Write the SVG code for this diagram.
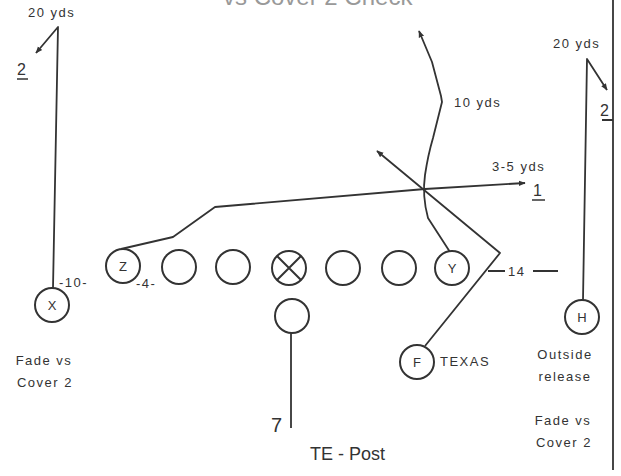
<svg xmlns="http://www.w3.org/2000/svg" width="621" height="476" viewBox="0 0 621 476">
<defs>
<marker id="arr" viewBox="0 0 10 10" refX="9" refY="5" markerWidth="7" markerHeight="7" orient="auto" markerUnits="userSpaceOnUse">
<path d="M0,1 L10,5 L0,9 z" fill="#333"/>
</marker>
<style>
.p{fill:#fff;stroke:#333;stroke-width:2}
.r{fill:none;stroke:#333;stroke-width:1.8;stroke-linejoin:round}
.t{font-family:"Liberation Sans",Arial,sans-serif;fill:#333}
.s{font-size:13px;letter-spacing:1.5px}
.c{font-size:13px;text-anchor:middle}
</style>
</defs>
<rect width="621" height="476" fill="#fff"/>
<text class="t" x="223" y="5" font-size="24" style="fill:#999">vs Cover 2 Check</text>

<g id="connectors">
<path class="r" d="M53,288 L58,27 L36,53" marker-end="url(#arr)"/>
<path class="r" d="M121,249 L173,237 L215,207 L425,189 L525,183" marker-end="url(#arr)"/>
<path class="r" d="M450,252 L428,218 Q422,196 425,175 Q428,155 433,138 L442,102 L441,96 L432,62 L419,31" marker-end="url(#arr)"/>
<path class="r" d="M425,346 L500,253 L377,151" marker-end="url(#arr)"/>
<path class="r" d="M583,300 L587,59 L607,90" marker-end="url(#arr)"/>
<path class="r" d="M291,333 L291,428"/>
<path class="r" d="M613,0 L613,470 M602,120 L613,120"/>
<path class="r" d="M488,271 L505,271 M533,271 L558,271" stroke-width="1.4"/>
</g>

<g id="node-X"><circle class="p" cx="52" cy="305" r="17"/><text class="t c" x="52" y="310">X</text></g>
<g id="node-Z"><circle class="p" cx="123" cy="266" r="17"/><text class="t c" x="123" y="271">Z</text></g>
<g id="node-LT"><circle class="p" cx="179" cy="267" r="17"/></g>
<g id="node-LG"><circle class="p" cx="233" cy="267" r="17"/></g>
<g id="node-C"><circle class="p" cx="289" cy="268" r="17"/><path d="M277,256 L301,280 M301,256 L277,280" stroke="#333" stroke-width="2"/></g>
<g id="node-RG"><circle class="p" cx="343" cy="268" r="17"/></g>
<g id="node-RT"><circle class="p" cx="399" cy="268" r="17"/></g>
<g id="node-Y"><circle class="p" cx="452" cy="268" r="17"/><text class="t c" x="452" y="273">Y</text></g>
<g id="node-QB"><circle class="p" cx="292" cy="316" r="17"/></g>
<g id="node-F"><circle class="p" cx="417" cy="362" r="17"/><text class="t c" x="417" y="367" font-size="12">F</text></g>
<g id="node-H"><circle class="p" cx="582" cy="317" r="17"/><text class="t c" x="582" y="322" font-size="12">H</text></g>

<g id="labels">
<text class="t s" x="28" y="17">20 yds</text>
<text class="t" x="17" y="75" font-size="16">2</text>
<path d="M17,79 L28,79" stroke="#333" stroke-width="1.5"/>
<text class="t s" x="553" y="48">20 yds</text>
<text class="t" x="600" y="116" font-size="16">2</text>
<text class="t s" x="454" y="107">10 yds</text>
<text class="t s" x="492" y="171">3-5 yds</text>
<text class="t" x="533" y="196" font-size="16">1</text>
<path d="M532,200 L545,200" stroke="#333" stroke-width="1.5"/>
<text class="t s" x="59" y="287">-10-</text>
<text class="t s" x="136" y="288">-4-</text>
<text class="t s" x="508" y="276">14</text>
<text class="t s" x="440" y="366" font-size="14">TEXAS</text>
<text class="t s" x="44" y="365" text-anchor="middle">Fade vs</text>
<text class="t s" x="45" y="387" text-anchor="middle">Cover 2</text>
<text class="t s" x="565" y="359" text-anchor="middle">Outside</text>
<text class="t s" x="565" y="381" text-anchor="middle">release</text>
<text class="t s" x="563" y="425" text-anchor="middle">Fade vs</text>
<text class="t s" x="564" y="447" text-anchor="middle">Cover 2</text>
<text class="t" x="271" y="432" font-size="20">7</text>
<text class="t" x="310" y="460" font-size="18">TE - Post</text>
</g>
</svg>
